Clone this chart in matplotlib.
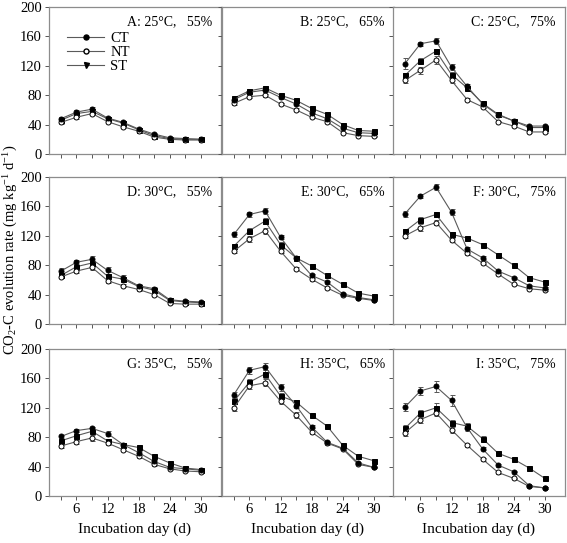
import matplotlib
matplotlib.use("Agg")
import matplotlib.pyplot as plt
from matplotlib.lines import Line2D

plt.rcParams['font.family'] = ['Liberation Serif', 'DejaVu Serif']
plt.rcParams['mathtext.fontset'] = 'custom'
plt.rcParams['mathtext.rm'] = 'Liberation Serif'
plt.rcParams['mathtext.it'] = 'Liberation Serif:italic'

days = [3, 6, 9, 12, 15, 18, 21, 24, 27, 30]
panels = ['A', 'B', 'C', 'D', 'E', 'F', 'G', 'H', 'I']
temps = ['25', '25', '25', '30', '30', '30', '35', '35', '35']
moist = ['55', '65', '75', '55', '65', '75', '55', '65', '75']

ct = {
    'A': [48, 57, 61, 49, 43, 34, 27, 22, 21, 20],
    'B': [74, 84, 87, 77, 68, 56, 48, 35, 29, 28],
    'C': [123, 150, 154, 118, 92, 68, 53, 45, 38, 38],
    'D': [72, 84, 88, 73, 63, 52, 48, 33, 31, 30],
    'E': [122, 149, 154, 118, 90, 66, 57, 41, 36, 33],
    'F': [150, 174, 186, 152, 102, 90, 72, 63, 52, 49],
    'G': [81, 89, 92, 85, 70, 59, 47, 39, 37, 35],
    'H': [138, 171, 176, 148, 123, 94, 73, 65, 45, 39],
    'I': [121, 143, 149, 130, 93, 64, 42, 33, 14, 11],
}
nt = {
    'A': [43, 50, 55, 44, 37, 31, 23, 20, 19, 19],
    'B': [69, 78, 80, 68, 60, 50, 44, 29, 25, 24],
    'C': [100, 114, 128, 100, 74, 64, 44, 38, 30, 30],
    'D': [64, 72, 77, 59, 52, 47, 40, 28, 27, 27],
    'E': [99, 116, 127, 99, 75, 61, 49, 39, 35, 32],
    'F': [120, 131, 138, 114, 96, 83, 68, 54, 48, 46],
    'G': [68, 74, 79, 72, 63, 54, 43, 37, 34, 33],
    'H': [120, 150, 154, 129, 110, 87, 72, 64, 43, 39],
    'I': [86, 104, 113, 90, 69, 50, 32, 24, 13, 11],
}
st = {
    'A': [46, 55, 58, 48, 42, 33, 25, 21, 20, 20],
    'B': [76, 86, 90, 80, 73, 62, 54, 40, 32, 31],
    'C': [107, 127, 140, 108, 90, 69, 54, 45, 36, 36],
    'D': [66, 78, 83, 65, 61, 51, 46, 32, 30, 29],
    'E': [106, 127, 140, 108, 90, 79, 66, 54, 42, 38],
    'F': [126, 142, 149, 122, 117, 108, 94, 80, 63, 57],
    'G': [75, 82, 88, 75, 70, 66, 54, 45, 38, 36],
    'H': [129, 155, 166, 136, 128, 110, 95, 69, 54, 48],
    'I': [92, 113, 120, 100, 95, 78, 58, 50, 38, 24],
}
ct_err = {
    'A': [2, 3, 3, 2, 2, 2, 1, 1, 1, 1],
    'B': [2, 2, 3, 2, 2, 1, 1, 1, 1, 1],
    'C': [8, 3, 4, 4, 3, 2, 2, 1, 2, 2],
    'D': [4, 3, 4, 5, 3, 2, 2, 2, 1, 1],
    'E': [3, 4, 4, 3, 2, 2, 2, 1, 1, 1],
    'F': [4, 3, 4, 4, 3, 2, 2, 1, 1, 1],
    'G': [2, 2, 2, 3, 2, 2, 2, 1, 1, 1],
    'H': [4, 5, 5, 5, 3, 2, 2, 2, 1, 1],
    'I': [5, 5, 8, 7, 4, 2, 2, 1, 1, 1],
}
nt_err = {
    'A': [2, 2, 2, 2, 2, 1, 1, 1, 1, 1],
    'B': [2, 2, 2, 2, 2, 1, 1, 1, 1, 1],
    'C': [3, 5, 5, 3, 2, 2, 1, 1, 1, 1],
    'D': [2, 3, 3, 3, 2, 2, 2, 1, 1, 1],
    'E': [3, 4, 4, 3, 2, 2, 2, 1, 1, 1],
    'F': [3, 5, 3, 3, 2, 2, 2, 1, 1, 1],
    'G': [3, 3, 4, 2, 2, 2, 2, 1, 1, 1],
    'H': [5, 4, 5, 4, 4, 3, 2, 2, 1, 1],
    'I': [4, 4, 4, 4, 2, 2, 2, 1, 1, 1],
}
st_err = {
    'A': [2, 2, 2, 2, 2, 1, 1, 1, 1, 1],
    'B': [2, 2, 2, 2, 2, 1, 1, 1, 1, 1],
    'C': [3, 3, 3, 3, 3, 2, 1, 1, 1, 1],
    'D': [2, 2, 3, 2, 2, 2, 1, 1, 1, 1],
    'E': [3, 3, 4, 3, 2, 2, 2, 1, 1, 1],
    'F': [3, 3, 4, 3, 2, 2, 2, 1, 1, 1],
    'G': [2, 2, 2, 2, 2, 2, 2, 1, 1, 1],
    'H': [4, 4, 5, 4, 3, 2, 2, 2, 1, 1],
    'I': [4, 4, 6, 4, 4, 3, 2, 1, 1, 1],
}

fig = plt.figure(figsize=(5.67, 5.43), dpi=100)

lefts = [49 / 567, 222 / 567, 393 / 567]
width = 171.5 / 567
bottoms = [1 - 154 / 543, 1 - 324 / 543, 1 - 496 / 543]
height = 147 / 543

line_col = '#5a5a5a'
spine_col = '#8c8c8c'

for i, p in enumerate(panels):
    r, c = divmod(i, 3)
    ax = fig.add_axes([lefts[c], bottoms[r], width, height])

    kw = dict(color=line_col, lw=0.8, capsize=1.8, elinewidth=0.6,
              ecolor='#555555', ms=3.6, mew=0.7, zorder=3)
    ax.errorbar(days, st[p], yerr=st_err[p], marker='s', mfc='black',
                mec='black', **kw)
    ax.errorbar(days, nt[p], yerr=nt_err[p], marker='o', mfc='white',
                mec='black', **kw)
    ax.errorbar(days, ct[p], yerr=ct_err[p], marker='o', mfc='black',
                mec='black', **kw)

    ax.set_xlim(0.7, 33.8)
    ax.set_ylim(0, 200)
    ax.set_yticks(range(0, 201, 40))
    ax.set_xticks(days)
    for s in ax.spines.values():
        s.set_color(spine_col)
        s.set_linewidth(0.9)
    ax.tick_params(direction='out', length=3, width=0.7, color='#555555',
                   labelsize=10.5, pad=2)

    if c == 0:
        ax.set_yticklabels([str(v) for v in range(0, 201, 40)])
    else:
        ax.set_yticklabels([])
    if r == 2:
        ax.set_xticklabels([str(d) if d % 6 == 0 else '' for d in days])
        ax.set_xlabel('Incubation day (d)', fontsize=11, labelpad=5)
    else:
        ax.set_xticklabels([])

    ax.text(0.95, 0.90, f'{p}: {temps[i]}°C,   {moist[i]}%',
            transform=ax.transAxes, ha='right', va='center', fontsize=10)

    if p == 'A':
        handles = [
            Line2D([], [], color=line_col, lw=0.8, marker='o', mfc='black',
                   mec='black', ms=3.6),
            Line2D([], [], color=line_col, lw=0.8, marker='o', mfc='white',
                   mec='black', ms=3.6),
            Line2D([], [], color=line_col, lw=0.8, marker='v', mfc='black',
                   mec='black', ms=3.6),
        ]
        ax.legend(handles, ['CT', 'NT', 'ST'], loc='upper left',
                  bbox_to_anchor=(0.06, 0.88), frameon=False, fontsize=10.5,
                  handlelength=2.6, handletextpad=0.4, labelspacing=0.05,
                  borderpad=0)

fig.text(0.003, 0.54, 'CO$_2$-C evolution rate (mg kg$^{-1}$ d$^{-1}$)',
         rotation=90, ha='left', va='center', fontsize=10.5)

fig.savefig('out.png', dpi=100)
